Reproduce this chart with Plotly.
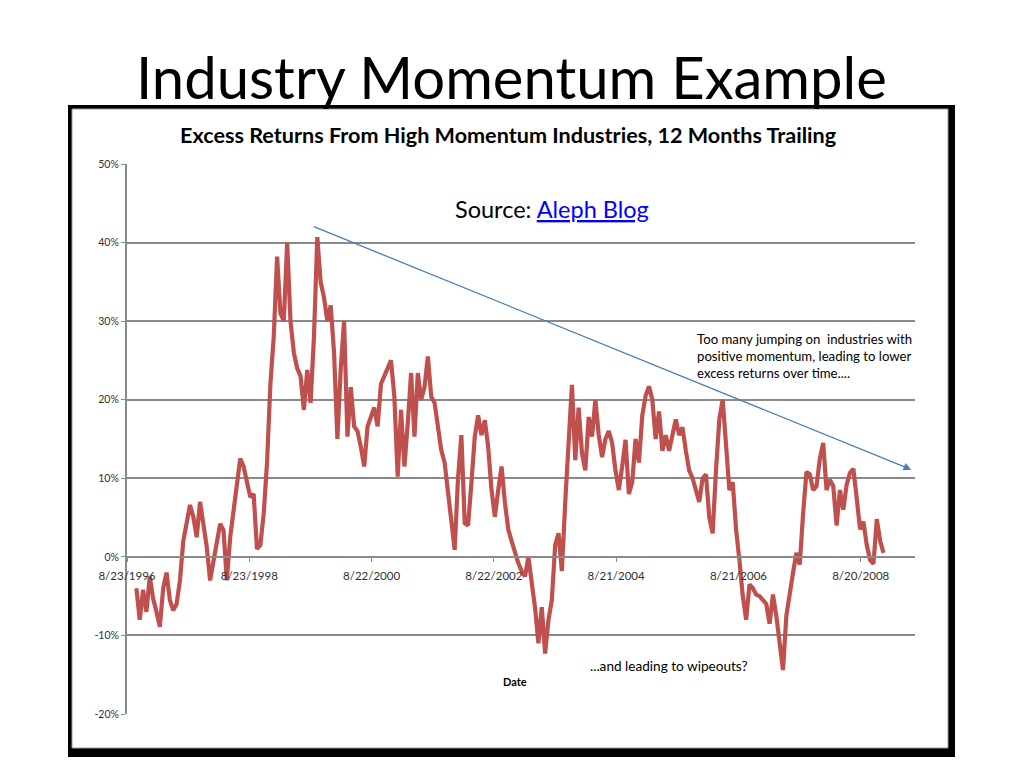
import pandas as pd
import plotly.graph_objects as go

# ---------------- data ----------------
start_date = "1996-10-18"
step = "20D"
excess_returns = [
    -4, -8, -4.2, -7, -2.5, -5.3, -7, -8.9, -4, -2,
    -5.5, -6.8, -6, -3, 2, 4.2, 6.6, 5.1, 2.5, 7,
    3.8, 1.3, -3, -0.4, 2.1, 4.2, 3.4, -3, 2.5, 5.7,
    8.5, 12.5, 11.5, 9.4, 7.6, 8, 1, 1.5, 5.5, 12,
    22, 28, 38.2, 31, 30, 40, 30, 26, 24, 23,
    18.7, 23.8, 19.6, 28, 40.7, 35, 33, 30, 32, 26,
    15, 24, 30, 15.3, 21.6, 16.6, 16, 14, 11.5, 16.6,
    17.8, 19, 16.6, 22, 23, 24, 25, 20.4, 10.2, 18.7,
    11.5, 17, 23.4, 15.3, 23.4, 20, 21.6, 25.5, 20.4, 19.6,
    16.6, 13.6, 12, 8.5, 4.7, 0.9, 10, 15.5, 4.3, 4,
    9.4, 15.3, 18, 15.5, 17.4, 14, 8.5, 5.1, 8.5, 11.5,
    6.9, 3.5, 2, 0.5, -0.8, -1.8, -2.5, 0, -3, -6.5,
    -11, -6.4, -12.3, -8, -5.5, 1.5, 3, -1.8, 6.9, 15,
    21.9, 12.3, 19, 13.2, 11, 17.8, 15.3, 20, 15.5, 12.7,
    15, 16, 14.5, 11, 8.5, 11.5, 14.9, 8, 9.5, 15,
    12, 18, 20.5, 21.7, 20, 15, 18.5, 13.5, 15.5, 13.5,
    15.5, 17.5, 15.5, 16.5, 13.5, 11, 10, 8.5, 7, 10,
    10.5, 5, 3, 11, 17.5, 20, 14, 8.5, 9.5, 3.5,
    -0.5, -5, -8, -3.5, -4, -4.8, -5, -5.5, -6, -8.5,
    -4.8, -7.5, -11, -14.4, -7.5, -4.5, -2, 0.5, -1, 5.5,
    10.8, 10.5, 8.5, 9, 12.5, 14.5, 8.5, 9.8, 9, 4,
    8.5, 6, 9.2, 10.7, 11.2, 7.5, 3.5, 4.5, 1.5, -0.4,
    -0.9, 4.8, 2, 0.5,
]
tick_dates = ["1996-08-23", "1998-08-23", "2000-08-22", "2002-08-22",
              "2004-08-21", "2006-08-21", "2008-08-20"]
tick_labels = ["8/23/1996", "8/23/1998", "8/22/2000", "8/22/2002",
               "8/21/2004", "8/21/2006", "8/20/2008"]
y_ticks = [-20, -10, 0, 10, 20, 30, 40, 50]
y_labels = ["-20%", "-10%", "0%", "10%", "20%", "30%", "40%", "50%"]
x_range = ["1996-08-23", "2009-07-10"]
trend_start = ("1999-09-04", 42.1)
trend_end = ("2009-06-18", 11.1)

dates = pd.date_range(start=start_date, periods=len(excess_returns), freq=step)

# ---------------- figure ----------------
W, H = 1024, 768
FONT = "Lato"
GRID = "#8a8a8a"


def px(x):
    return x / W


def py(y):
    return 1 - y / H


fig = go.Figure()
fig.add_trace(go.Scatter(
    x=dates, y=excess_returns, mode="lines",
    line=dict(color="#C0504D", width=4.2),
    hoverinfo="skip", showlegend=False,
))

shapes = [
    dict(type="rect", xref="paper", yref="paper", layer="below",
         x0=px(68), x1=px(955), y0=py(757), y1=py(105),
         fillcolor="black", line=dict(width=0)),
    dict(type="rect", xref="paper", yref="paper", layer="below",
         x0=px(72), x1=px(948), y0=py(748), y1=py(109),
         fillcolor="white", line=dict(color="#9a9a9a", width=1)),
]


def label(text, x, y, size, xanchor="center", yanchor="middle", **kw):
    return dict(text=text, x=px(x), y=py(y), xref="paper", yref="paper",
                showarrow=False, xanchor=xanchor, yanchor=yanchor,
                font=dict(family=FONT, size=size, color="black"), **kw)


annotations = [
    label("Industry Momentum Example", 511, 77, 58),
    label("<b>Excess Returns From High Momentum Industries, 12 Months Trailing</b>",
          508, 135, 21.6),
    label("Source: <a href='http://alephblog.com'><span style='color:#0000FF'><u>Aleph Blog</u></span></a>",
          552, 209, 23.5),
    label("Too many jumping on  industries with<br>positive momentum, leading to lower<br>excess returns over time....",
          695, 329, 13.2, xanchor="left", yanchor="top", align="left"),
    label("...and leading to wipeouts?", 669, 666, 13.6),
    label("<b>Date</b>", 515, 681, 11),
    dict(text="", x=trend_end[0], y=trend_end[1], xref="x", yref="y",
         ax=trend_start[0], ay=trend_start[1], axref="x", ayref="y",
         showarrow=True, arrowhead=2, arrowsize=1.2, arrowwidth=1.3,
         arrowcolor="#4A7EBB"),
]

fig.update_layout(
    template="none",
    width=W, height=H,
    margin=dict(l=0, r=0, t=0, b=0, pad=0, autoexpand=False),
    paper_bgcolor="white", plot_bgcolor="rgba(0,0,0,0)",
    font=dict(family=FONT, color="#404040"),
    shapes=shapes, annotations=annotations,
    xaxis=dict(
        type="date", range=x_range, domain=[px(127), px(915)],
        anchor="free", position=py(557), automargin=False,
        tickmode="array", tickvals=tick_dates, ticktext=tick_labels,
        showgrid=False, zeroline=False,
        showline=True, linecolor=GRID, linewidth=2,
        ticks="outside", ticklen=4, tickcolor=GRID, tickwidth=1,
        ticklabelstandoff=4,
        tickfont=dict(family=FONT, size=11.5, color="#303030"),
    ),
    yaxis=dict(
        range=[-20, 50], domain=[py(714), py(164)], automargin=False,
        tickmode="array", tickvals=y_ticks, ticktext=y_labels,
        showgrid=True, gridcolor=GRID, gridwidth=2,
        zeroline=False,
        showline=True, linecolor=GRID, linewidth=2,
        ticks="outside", ticklen=4, tickcolor=GRID,
        tickfont=dict(family=FONT, size=10.5, color="#303030"),
    ),
)

fig.write_html(
    "out.html",
    config={"displayModeBar": False},
    post_script="document.body.style.margin='0';document.body.style.overflow='hidden';",
)
